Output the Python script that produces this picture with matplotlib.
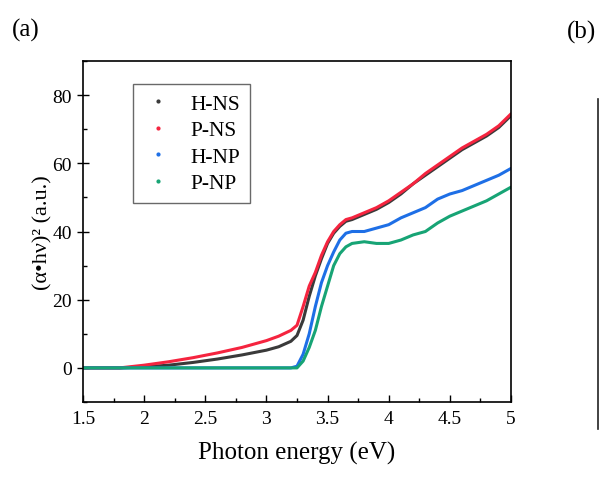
import matplotlib
matplotlib.use("Agg")
import matplotlib.pyplot as plt
from matplotlib.lines import Line2D
from matplotlib.ticker import MultipleLocator

plt.rcParams['font.family'] = ['Liberation Serif', 'DejaVu Serif']

# Photon energy grid (eV)
energy = [1.5, 1.8, 2.0, 2.2, 2.4, 2.6, 2.8, 3.0, 3.1, 3.2, 3.25, 3.3, 3.35, 3.4,
          3.45, 3.5, 3.55, 3.6, 3.65, 3.7, 3.8, 3.9, 4.0, 4.1, 4.2, 4.3, 4.4, 4.5,
          4.6, 4.7, 4.8, 4.9, 5.0]

# (alpha*h*nu)^2 for each sample
h_ns = [0, 0, 0.3, 0.8, 1.6, 2.6, 3.8, 5.2, 6.2, 7.8, 9.5, 14, 21, 27, 32, 36.5,
        39.5, 41.5, 43, 43.5, 45, 46.5, 48.5, 51, 54, 56.5, 59, 61.5, 64, 66,
        68, 70.5, 74]
p_ns = [0, 0, 0.8, 1.8, 3.0, 4.4, 6.0, 8.0, 9.3, 11.0, 12.5, 18, 24, 28, 33, 37,
        40, 42, 43.5, 44, 45.5, 47, 49, 51.5, 54, 57, 59.5, 62, 64.5, 66.5,
        68.5, 71, 74.5]
h_np = [0, 0, 0, 0, 0, 0, 0, 0, 0, 0, 0.5, 4, 10, 18, 25, 30, 34, 37.5, 39.5,
        40, 40, 41, 42, 44, 45.5, 47, 49.5, 51, 52, 53.5, 55, 56.5, 58.5]
p_np = [0, 0, 0, 0, 0, 0, 0, 0, 0, 0, 0, 2, 6, 11, 18, 24, 30, 33.5, 35.5, 36.5,
        37, 36.5, 36.5, 37.5, 39, 40, 42.5, 44.5, 46, 47.5, 49, 51, 53]

labels = ['H-NS', 'P-NS', 'H-NP', 'P-NP']
colors = ['#3a3a3a', '#f5243f', '#1e6fe6', '#17a475']
series = [h_ns, p_ns, h_np, p_np]

fig = plt.figure(figsize=(6.0, 4.81), dpi=100)
ax = fig.add_axes([83 / 600, 1 - 403 / 481, 428 / 600, 341 / 481])

for vals, col in zip(series, colors):
    ax.plot(energy, vals, color=col, lw=2.2, solid_capstyle='round')

ax.set_xlim(1.5, 5)
ax.set_ylim(-10, 90)
ax.xaxis.set_minor_locator(MultipleLocator(0.25))
ax.yaxis.set_major_locator(MultipleLocator(20))
ax.yaxis.set_minor_locator(MultipleLocator(10))
ax.set_xticks([1.5, 2, 2.5, 3, 3.5, 4, 4.5, 5])
ax.set_xticklabels(['1.5', '2', '2.5', '3', '3.5', '4', '4.5', '5'])
ax.tick_params(axis='x', which='major', direction='in', length=5, width=1,
               labelsize=14, pad=6)
ax.tick_params(axis='x', which='minor', direction='in', length=3, width=1)
ax.tick_params(axis='y', which='major', direction='inout', length=8, width=1,
               labelsize=14, pad=4)
ax.tick_params(axis='y', which='minor', direction='in', length=3, width=1)
for sp in ax.spines.values():
    sp.set_linewidth(1.2)

ax.set_xlabel('Photon energy (eV)', fontsize=18, labelpad=10)
ax.set_ylabel('(α•hν)² (a.u.)', fontsize=16, labelpad=0)

handles = [Line2D([], [], ls='none', marker='o', markersize=2, color=c)
           for c in colors]
leg = ax.legend(handles, labels, loc='upper left', bbox_to_anchor=(0.117, 0.933),
                borderaxespad=0, fontsize=15.5, frameon=True, fancybox=False,
                handlelength=1.4, handletextpad=0.8, labelspacing=0.3,
                borderpad=0.45)
leg.get_frame().set_edgecolor('#444444')
leg.get_frame().set_linewidth(1.0)

fig.text(12 / 600, 1 - 30 / 481, '(a)', fontsize=18, va='center', ha='left')
fig.text(567 / 600, 1 - 32 / 481, '(b)', fontsize=18, va='center', ha='left')
fig.add_artist(Line2D([598 / 600, 598 / 600], [1 - 100 / 481, 1 - 430 / 481],
                      color='#222222', lw=1.2, transform=fig.transFigure))

fig.savefig('out.png', dpi=100)
